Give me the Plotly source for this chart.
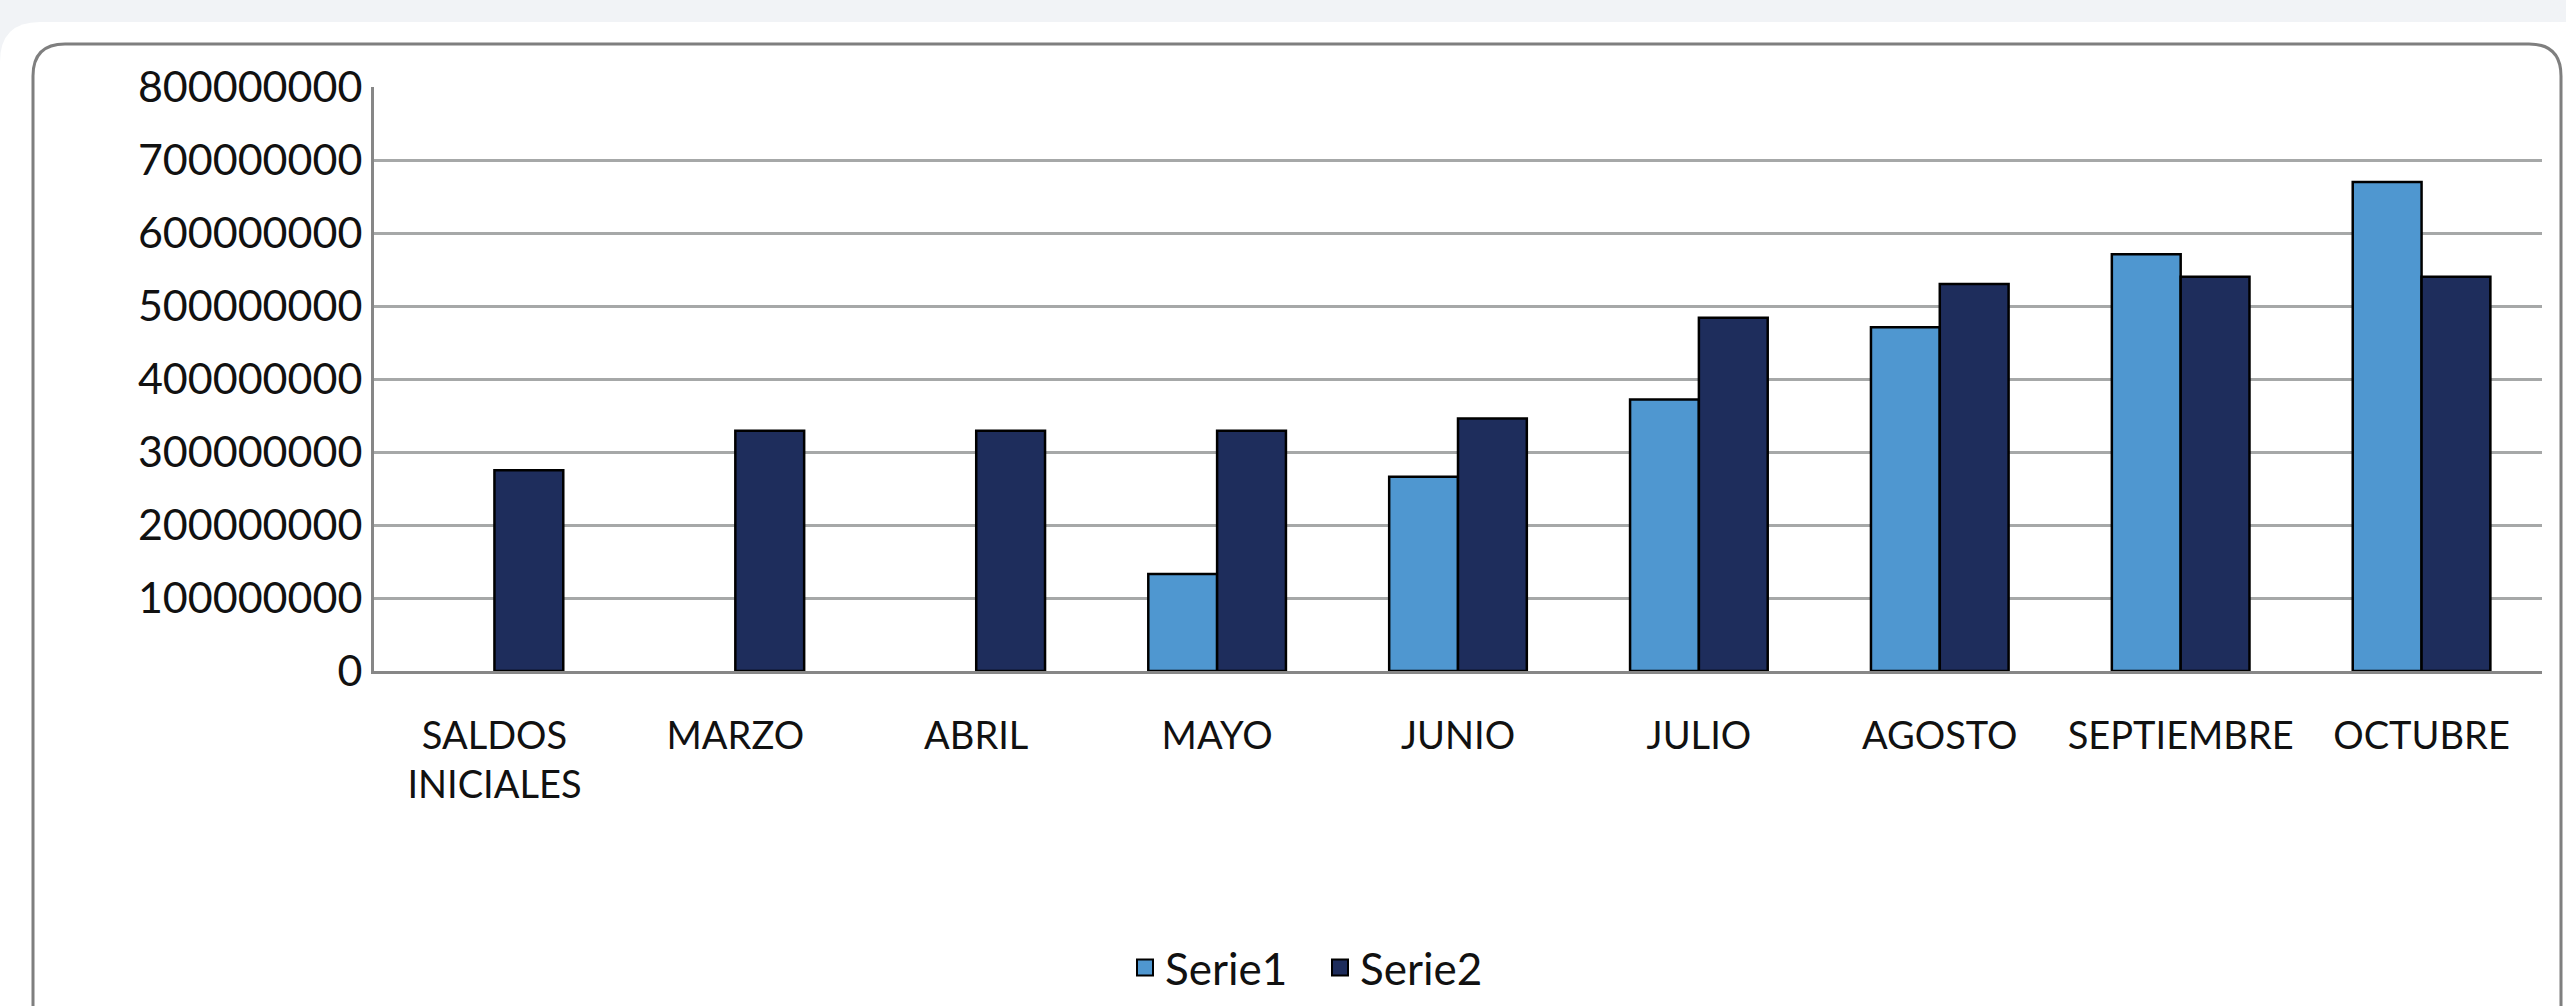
import plotly.graph_objects as go

categories = ["SALDOS<br>INICIALES", "MARZO", "ABRIL", "MAYO", "JUNIO",
              "JULIO", "AGOSTO", "SEPTIEMBRE", "OCTUBRE"]
serie1 = [None, None, None, 133e6, 266e6, 372e6, 471e6, 571e6, 670e6]
serie2 = [275e6, 329e6, 329e6, 329e6, 346e6, 484e6, 530e6, 540e6, 540e6]
series_names = ["Serie1", "Serie2"]
series_colors = ["#4f97d0", "#1e2d5c"]
y_ticks = [0, 100e6, 200e6, 300e6, 400e6, 500e6, 600e6, 700e6, 800e6]

W, H = 2566, 1006
L, R, T, B = 374, 2542, 87, 671  # plot area in pixels

def px(x):
    return (x - L) / (R - L)

def py(y):
    return (B - y) / (B - T)

def rrect(x0, y0, x1, y1, r):
    pts = [
        f"M {px(x0 + r)},{py(y0)}",
        f"L {px(x1 - r)},{py(y0)}",
        f"Q {px(x1)},{py(y0)} {px(x1)},{py(y0 + r)}",
        f"L {px(x1)},{py(y1 - r)}",
        f"Q {px(x1)},{py(y1)} {px(x1 - r)},{py(y1)}",
        f"L {px(x0 + r)},{py(y1)}",
        f"Q {px(x0)},{py(y1)} {px(x0)},{py(y1 - r)}",
        f"L {px(x0)},{py(y0 + r)}",
        f"Q {px(x0)},{py(y0)} {px(x0 + r)},{py(y0)}",
        "Z",
    ]
    return " ".join(pts)

FONT = "Lato, 'Open Sans', sans-serif"
fs_y = 43
fs_x = 38
fs_leg = 44

fig = go.Figure()
for name, vals, col in zip(series_names, [serie1, serie2], series_colors):
    fig.add_trace(go.Bar(name=name, x=categories, y=vals, showlegend=False,
                         marker=dict(color=col, line=dict(color="#000000", width=2.5))))
# legend proxies (square swatches)
for name, col in zip(series_names, series_colors):
    fig.add_trace(go.Scatter(name=name, x=[None], y=[None], mode="markers",
                             marker=dict(symbol="square", size=16, color=col,
                                         line=dict(color="#000000", width=2))))

shapes = [
    dict(type="path", xref="paper", yref="paper", layer="below",
         path=rrect(0, 22, W + 60, H + 80, 40), fillcolor="#ffffff", line=dict(width=0)),
    dict(type="path", xref="paper", yref="paper", layer="below",
         path=rrect(33, 44, 2561, H + 60, 32), fillcolor="rgba(0,0,0,0)",
         line=dict(color="#7f7f7f", width=3)),
]

fig.update_layout(
    width=W, height=H,
    margin=dict(l=L, r=W - R, t=T, b=H - B, pad=0, autoexpand=False),
    paper_bgcolor="#f1f3f6",
    plot_bgcolor="rgba(0,0,0,0)",
    barmode="group",
    bargap=0.4286,
    bargroupgap=0,
    font=dict(family=FONT, size=fs_y, color="#111111"),
    shapes=shapes,
    showlegend=True,
    legend=dict(orientation="h", xref="container", yref="container",
                x=1125 / W, xanchor="left", y=(H - 968) / H, yanchor="middle",
                font=dict(family=FONT, size=fs_leg, color="#111111"),
                itemwidth=30, entrywidth=150, entrywidthmode="pixels",
                bgcolor="rgba(0,0,0,0)", traceorder="normal"),
)
fig.update_xaxes(showline=True, linecolor="#878787", linewidth=3, ticks="",
                 showgrid=False, tickfont=dict(size=fs_x), ticklabelstandoff=29,
                 automargin=False, range=[-0.5, len(categories) - 0.5])
fig.update_yaxes(range=[0, 800e6], tickvals=y_ticks, tickformat="d",
                 showgrid=True, gridcolor="#a6a8a8", gridwidth=2.5,
                 showline=True, linecolor="#878787", linewidth=3, ticks="",
                 automargin=False, zeroline=False, tickfont=dict(size=fs_y),
                 ticklabelstandoff=0)

fig.write_html("out.html", config={"displayModeBar": False},
               post_script="document.body.style.margin='0';")
